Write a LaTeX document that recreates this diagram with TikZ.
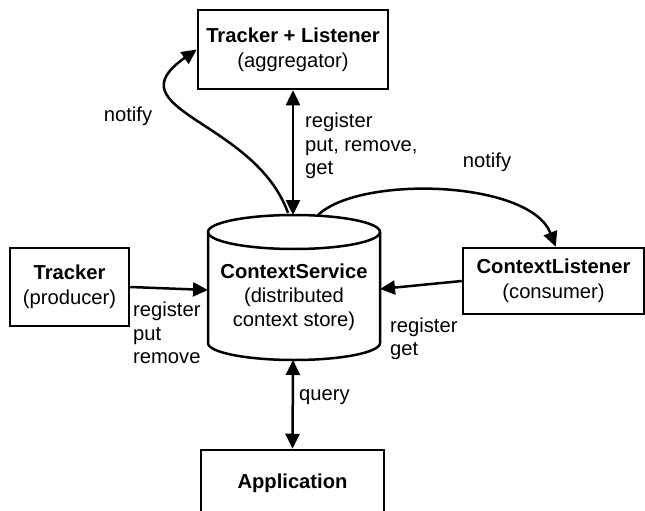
\documentclass[tikz,border=0pt]{standalone}
\usepackage{fontspec}
\setmainfont{Liberation Sans}
\usetikzlibrary{arrows.meta}
\begin{document}
\begin{tikzpicture}[x=1pt,y=-1pt,
  lw/.style={line width=2.5pt},
  box/.style={draw,lw,rectangle,align=center,inner sep=0pt,font=\fontsize{20.2}{25}\selectfont},
  lbl/.style={inner sep=0pt,align=left,font=\fontsize{20.2}{23.5}\selectfont},
  arr/.style={lw,-{Triangle[length=15pt,width=14pt]}},
  darr/.style={lw,{Triangle[length=15pt,width=14pt]}-{Triangle[length=15pt,width=14pt]}}]
\useasboundingbox (0,0) rectangle (645,511);

% boxes
\node[box,minimum width=190,minimum height=79] (tl) at (293,49.5) {\textbf{Tracker + Listener}\\(aggregator)};
\node[box,minimum width=119,minimum height=78] (tr) at (69.5,287) {\textbf{Tracker}\\(producer)};
\node[box,minimum width=181,minimum height=66] (cl) at (553.5,281) {\textbf{ContextListener}\\(consumer)};
\node[box,minimum width=183,minimum height=66] (app) at (292.5,483) {\textbf{Application}};

% cylinder
\draw[lw] (208,232) -- (208,343) arc[start angle=180,end angle=0,x radius=86,y radius=17] -- (380,232);
\draw[lw] (294,232) ellipse[x radius=86,y radius=17];
\node[lbl,align=center,font=\fontsize{20.2}{24}\selectfont] (cs) at (294,297) {\textbf{ContextService}\\(distributed\\context store)};
\coordinate (csW) at (208,290);
\coordinate (csE) at (380,289);
\coordinate (csN) at (293,215);
\coordinate (csS) at (293,360);
\coordinate (csNL) at (288,213);
\coordinate (csNR) at (318,215);

% connectors
\draw[arr] (tr.east) -- (csW);
\draw[arr] (cl.west) -- (csE);
\draw[darr] (tl.south) -- (csN);
\draw[darr] (csS) -- (app.north);
\draw[arr] (csNL) .. controls (255,120) and (110,110) .. (tl.west);
\draw[arr] (csNR) .. controls (360,175) and (530,180) .. ([xshift=94pt]cl.north west);

% labels
\node[lbl] (n1) at (128,116) {notify};
\node[lbl,anchor=west] (l1) at (305,146) {register\\put, remove,\\get};
\node[lbl] (n2) at (487,162) {notify};
\node[lbl,anchor=west] (l2) at (133,333) {register\\put\\remove};
\node[lbl,anchor=west] (l3) at (390,339) {register\\get};
\node[lbl,anchor=west] (l4) at (299,397) {query};
\end{tikzpicture}
\end{document}
